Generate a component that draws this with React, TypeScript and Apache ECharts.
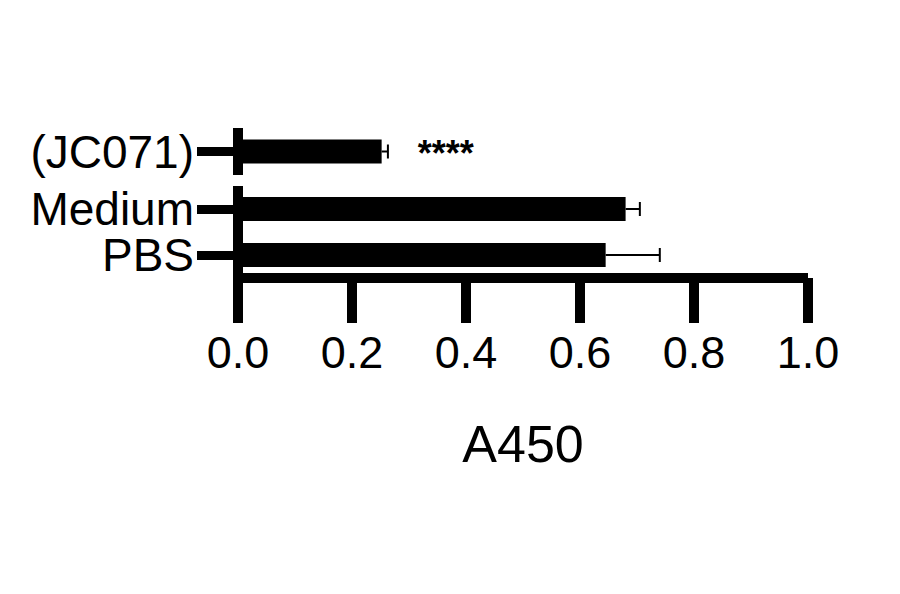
import * as echarts from 'echarts';
import { useEffect, useRef } from 'react';

// 아래 그룹 (PBS, Medium) — 축이 끊겨 있어서 그리드를 두 개로 나눔
const bottomCategories = ['PBS', 'Medium'];
const bottomMeans = [0.645, 0.68];
const bottomErrors = [0.095, 0.025];

// 위 그룹 (JC071)
const topCategories = ['(JC071)'];
const topMeans = [0.252];
const topErrors = [0.011];
const topSignificance = ['****'];

const xMin = 0;
const xMax = 1;
const xInterval = 0.2;
const xAxisName = 'A450';

const FONT = '"Liberation Sans", Arial, Helvetica, sans-serif';

const errorBarRender = (params: any, api: any) => {
  const mean = api.value(0);
  const idx = api.value(1);
  const err = api.value(2);
  const start = api.coord([mean, idx]);
  const end = api.coord([mean + err, idx]);
  const half = 7;
  const style = { stroke: '#000', lineWidth: 2 };
  return {
    type: 'group',
    children: [
      {
        type: 'line',
        shape: { x1: start[0], y1: start[1], x2: end[0], y2: end[1] },
        style,
      },
      {
        type: 'line',
        shape: { x1: end[0], y1: end[1] - half, x2: end[0], y2: end[1] + half },
        style,
      },
    ],
  };
};

export default function App() {
  const chartRef = useRef<HTMLDivElement>(null);

  useEffect(() => {
    if (!chartRef.current) return;
    const chart = echarts.init(chartRef.current, null, { renderer: 'svg' });

    const yAxisCommon = {
      type: 'category',
      axisLine: { show: true, lineStyle: { color: '#000', width: 10, cap: 'butt' } },
      axisTick: {
        show: true,
        interval: 0,
        alignWithLabel: true,
        length: 41,
        lineStyle: { color: '#000', width: 9 },
      },
      axisLabel: {
        interval: 0,
        color: '#000',
        fontSize: 46,
        lineHeight: 40,
        fontFamily: FONT,
        margin: 44,
      },
    };

    const option = {
      animation: false,
      backgroundColor: '#fff',
      grid: [
        { left: 238, right: 92, top: 186, height: 92 },
        { left: 238, right: 92, top: 128, height: 47 },
      ],
      xAxis: [
        {
          type: 'value',
          gridIndex: 0,
          min: xMin,
          max: xMax,
          interval: xInterval,
          name: xAxisName,
          nameLocation: 'middle',
          nameGap: 140,
          nameTextStyle: { color: '#000', fontSize: 52, fontFamily: FONT },
          axisLine: { show: true, lineStyle: { color: '#000', width: 10, cap: 'butt' } },
          axisTick: { show: true, length: 45, lineStyle: { color: '#000', width: 10 } },
          axisLabel: {
            color: '#000',
            fontSize: 45,
            fontFamily: FONT,
            margin: 52,
            formatter: (v: number) => v.toFixed(1),
          },
          splitLine: { show: false },
        },
        {
          type: 'value',
          gridIndex: 1,
          min: xMin,
          max: xMax,
          interval: xInterval,
          show: false,
        },
      ],
      yAxis: [
        { ...yAxisCommon, gridIndex: 0, data: bottomCategories },
        { ...yAxisCommon, gridIndex: 1, data: topCategories },
      ],
      series: [
        {
          type: 'bar',
          xAxisIndex: 0,
          yAxisIndex: 0,
          data: bottomMeans,
          barWidth: 24,
          itemStyle: { color: '#000' },
        },
        {
          type: 'bar',
          xAxisIndex: 1,
          yAxisIndex: 1,
          data: topMeans,
          barWidth: 24,
          itemStyle: { color: '#000' },
          label: {
            show: true,
            position: 'right',
            distance: 36,
            color: '#000',
            fontSize: 36,
            fontWeight: 'bold',
            fontFamily: FONT,
            offset: [0, 2],
            formatter: (p: any) => topSignificance[p.dataIndex],
          },
        },
        {
          type: 'custom',
          xAxisIndex: 0,
          yAxisIndex: 0,
          renderItem: errorBarRender,
          encode: { x: 0, y: 1 },
          data: bottomMeans.map((m, i) => [m, i, bottomErrors[i]]),
          z: 3,
        },
        {
          type: 'custom',
          xAxisIndex: 1,
          yAxisIndex: 1,
          renderItem: errorBarRender,
          encode: { x: 0, y: 1 },
          data: topMeans.map((m, i) => [m, i, topErrors[i]]),
          z: 3,
        },
      ],
    };

    chart.setOption(option);
    return () => {
      chart.dispose();
    };
  }, []);

  return (
    <div
      ref={chartRef}
      style={{ position: 'absolute', left: 0, top: 0, width: '900px', height: '594px' }}
    />
  );
}
